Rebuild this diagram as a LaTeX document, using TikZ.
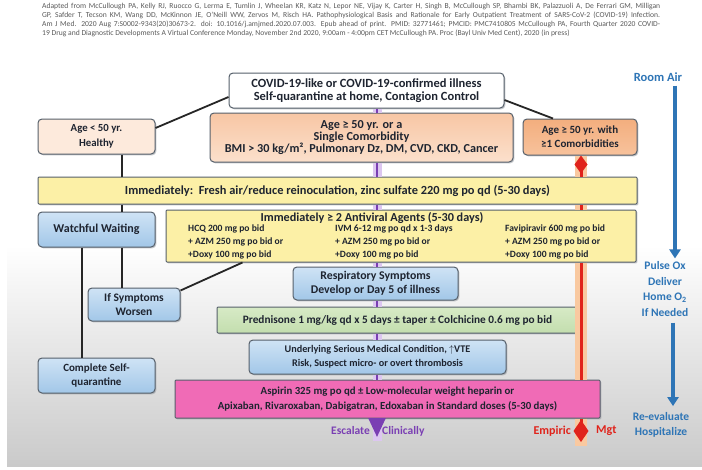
\documentclass[tikz,border=0pt]{standalone}
\usepackage{fontspec}
\setmainfont{Carlito}
\usetikzlibrary{shadows,arrows.meta,calc}
\definecolor{bordc}{HTML}{56606B}
\definecolor{txtc}{HTML}{1E2430}
\definecolor{hdrc}{HTML}{5A5A5A}
\definecolor{peachA}{HTML}{F8C6A4}
\definecolor{peachB}{HTML}{FBE0CC}
\definecolor{peachL}{HTML}{FDEADC}
\definecolor{orA}{HTML}{F3AE7E}
\definecolor{orB}{HTML}{F7C29C}
\definecolor{yelM}{HTML}{FCF0A6}
\definecolor{bluA}{HTML}{CFE3F5}
\definecolor{bluB}{HTML}{A2C7E8}
\definecolor{grnA}{HTML}{D7EAC6}
\definecolor{grnB}{HTML}{C3DEAE}
\definecolor{pnkM}{HTML}{F06BB6}
\definecolor{purp}{HTML}{7A3FB3}
\definecolor{purpglow}{HTML}{DCC6F0}
\definecolor{redl}{HTML}{E0231B}
\definecolor{redglow}{HTML}{F9C9A0}
\definecolor{bluel}{HTML}{2E75B6}
\definecolor{bgg}{HTML}{CACACA}
\definecolor{shadc}{HTML}{8A8F96}
\begin{document}
\begin{tikzpicture}[x=1pt,y=-1pt,
  box/.style={draw=bordc, line width=1pt, rounded corners=4pt, align=center,
    font=\fontsize{10}{12.5}\selectfont\bfseries, text=txtc, inner sep=1pt,
    drop shadow={shadow xshift=1.3pt,shadow yshift=-1.3pt,fill=shadc}},
  bluebox/.style={box, top color=bluA, bottom color=bluB},
  yelbox/.style={box, rounded corners=1pt, fill=yelM},
  smalltxt/.style={anchor=north west, align=left, inner sep=0pt, text=txtc,
    font=\fontsize{9.6}{13}\selectfont\bfseries},
  sidetxt/.style={inner sep=0pt, font=\fontsize{11.5}{15.5}\selectfont\bfseries, align=center},
  blk/.style={line width=1.8pt, black!85},
  pglow/.style={line width=9pt, purpglow},
  pline/.style={line width=2.6pt, purp},
  rglow/.style={line width=12pt, redglow},
  rline/.style={line width=3pt, redl},
  bluarrow/.style={line width=4pt, bluel, -{Triangle[width=11pt,length=9pt]}}
]
\useasboundingbox (0,0) rectangle (702,469);
\fill[white] (0,0) rectangle (702,469);
\shade[top color=white, bottom color=bgg] (7,245) rectangle (702,466);

% header
\node[anchor=north west, align=left, inner sep=0pt,
  font=\fontsize{7.6}{9}\selectfont, text=hdrc] (hdr) at (42,3.5)
{\makebox[618pt][s]{Adapted from McCullough PA, Kelly RJ, Ruocco G, Lerma E, Tumlin J, Wheelan KR, Katz N, Lepor NE, Vijay K, Carter H, Singh B, McCullough SP, Bhambi BK, Palazzuoli A, De Ferrari GM, Milligan}\\
\makebox[618pt][s]{GP, Safder T, Tecson KM, Wang DD, McKinnon JE, O'Neill WW, Zervos M, Risch HA. Pathophysiological Basis and Rationale for Early Outpatient Treatment of SARS-CoV-2 (COVID-19) Infection.}\\
\makebox[618pt][s]{Am J Med. 2020 Aug 7:S0002-9343(20)30673-2. doi: 10.1016/j.amjmed.2020.07.003. Epub ahead of print. PMID: 32771461; PMCID: PMC7410805 McCullough PA, Fourth Quarter 2020 COVID-}\\
19 Drug and Diagnostic Developments A Virtual Conference Monday, November 2nd 2020, 9:00am - 4:00pm CET McCullough PA. Proc (Bayl Univ Med Cent), 2020 (in press)};

% boxes
\node[box, fill=white, minimum width=275pt, minimum height=35pt, font=\fontsize{12.5}{13.5}\selectfont\bfseries] (top) at (366.5,90.5)
  {COVID-19-like or COVID-19-confirmed illness\\Self-quarantine at home, Contagion Control};
\node[box, fill=peachL, minimum width=117pt, minimum height=35pt, font=\fontsize{10.8}{15}\selectfont\bfseries] (young) at (96.5,136.5)
  {Age < 50 yr.\\Healthy};
\node[box, top color=peachA, bottom color=peachB, minimum width=303pt, minimum height=49pt,
  font=\fontsize{12.2}{12.2}\selectfont\bfseries] (single) at (361.5,137.5)
  {Age ≥ 50 yr. or a\\Single Comorbidity\\BMI > 30 kg/m², Pulmonary Dz, DM, CVD, CKD, Cancer};
\node[box, top color=orA, bottom color=orB, minimum width=114pt, minimum height=36pt, font=\fontsize{11}{14}\selectfont\bfseries] (comorb) at (580,137)
  {Age ≥ 50 yr. with\\≥1 Comorbidities};
\node[yelbox, minimum width=599pt, minimum height=27pt, font=\fontsize{12.4}{13}\selectfont\bfseries] (fresh) at (337.5,190.5)
  {Immediately:\ \ Fresh air/reduce reinoculation, zinc sulfate 220 mg po qd (5-30 days)};
\node[bluebox, minimum width=117pt, minimum height=35pt, font=\fontsize{12}{13}\selectfont\bfseries] (watch) at (96.5,229.5) {Watchful Waiting};
\node[yelbox, minimum width=470pt, minimum height=52pt] (antiv) at (401,236) {};
\node[inner sep=0pt, font=\fontsize{12.2}{13}\selectfont\bfseries, text=txtc] (antivt) at (372,218)
  {Immediately ≥ 2 Antiviral Agents (5-30 days)};
\node[smalltxt] (colA) at (188,225) {HCQ 200 mg po bid\\+ AZM 250 mg po bid or\\+Doxy 100 mg po bid};
\node[smalltxt] (colB) at (335,225) {IVM 6-12 mg po qd x 1-3 days\\+ AZM 250 mg po bid or\\+Doxy 100 mg po bid};
\node[smalltxt] (colC) at (505,225) {Favipiravir 600 mg po bid\\+ AZM 250 mg po bid or\\+Doxy 100 mg po bid};
\node[bluebox, minimum width=92pt, minimum height=33pt, font=\fontsize{11.5}{14}\selectfont\bfseries] (worsen) at (134,304.5) {If Symptoms\\Worsen};
\node[bluebox, minimum width=165pt, minimum height=33pt, font=\fontsize{11.8}{14}\selectfont\bfseries] (resp) at (375.5,283.5)
  {Respiratory Symptoms\\Develop or Day 5 of illness};
\node[box, rounded corners=1pt, top color=grnA, bottom color=grnB, minimum width=361pt, minimum height=26pt, font=\fontsize{11.3}{13}\selectfont\bfseries] (pred) at (397.5,320)
  {Prednisone 1 mg/kg qd x 5 days ± taper ± Colchicine 0.6 mg po bid};
\node[bluebox, minimum width=257pt, minimum height=34pt, font=\fontsize{10.2}{14}\selectfont\bfseries] (under) at (377.5,357)
  {Underlying Serious Medical Condition, \textcolor{txtc}{$\uparrow$}VTE\\Risk, Suspect micro- or overt thrombosis};
\node[bluebox, minimum width=117pt, minimum height=35pt, font=\fontsize{11}{14}\selectfont\bfseries] (selfq) at (96.5,375.5) {Complete Self-\\quarantine};
\node[box, rounded corners=1pt, fill=pnkM, minimum width=425pt, minimum height=38pt,
  font=\fontsize{10.8}{15}\selectfont\bfseries] (asp) at (387.5,399)
  {Aspirin 325 mg po qd ± Low-molecular weight heparin or\\Apixaban, Rivaroxaban, Dabigatran, Edoxaban in Standard doses (5-30 days)};

% bottom labels
\coordinate (esc) at (377,437);
\node[sidetxt, text=purp, anchor=east] (escl) at (370,431) {Escalate};
\node[sidetxt, text=purp, anchor=west] (clin) at (382,431) {Clinically};
\coordinate (emp) at (581,442);
\node[sidetxt, text=redl, anchor=east, font=\fontsize{12}{14}\selectfont\bfseries] (empl) at (571,431) {Empiric};
\node[sidetxt, text=redl, anchor=west, font=\fontsize{12}{14}\selectfont\bfseries] (mgt) at (596,431) {Mgt};

% right column
\node[sidetxt, text=bluel, font=\fontsize{12.5}{14}\selectfont\bfseries] (room) at (658,77) {Room Air};
\node[sidetxt, text=bluel] (pulse) at (665,289) {Pulse Ox\\Deliver\\Home O\textsubscript{2}\\If Needed};
\node[sidetxt, text=bluel] (reev) at (661,425) {Re-evaluate\\Hospitalize};

% purple path, drawn between boxes
\foreach \a/\b in {top/single, single/fresh, fresh/antiv, antiv/resp, resp/pred, pred/under, under/asp} {
  \draw[pglow] (\a.south -| esc) -- (\b.north -| esc);
  \draw[pline] (\a.south -| esc) -- (\b.north -| esc);
}
\draw[pglow] (asp.south -| esc) -- ([yshift=-4pt]esc);
\draw[pline, -{Triangle[width=17pt,length=19pt]}] (asp.south -| esc) -- (esc);

% red path, drawn between boxes
\draw[rglow] (comorb.south -| emp) -- (fresh.north -| emp);
\draw[rline, {Diamond[width=13pt,length=18pt]}-] (comorb.south -| emp) -- (fresh.north -| emp);
\draw[rglow] (fresh.south -| emp) -- (antiv.north -| emp);
\draw[rline] (fresh.south -| emp) -- (antiv.north -| emp);
\draw[rglow] (antiv.south -| emp) -- (asp.north -| emp);
\draw[rline] (antiv.south -| emp) -- (asp.north -| emp);
\draw[rglow] (asp.south -| emp) -- ([yshift=-4pt]emp);
\draw[rline, -{Diamond[width=15pt,length=22pt]}] (asp.south -| emp) -- (emp);

% black connectors
\coordinate (yl) at ([xshift=25.5pt]young.south);
\coordinate (wl) at ([xshift=25.5pt]watch.north);
\draw[blk] ([yshift=-6.5pt]top.west) -- ([yshift=8.5pt]young.east);
\draw[blk] ([yshift=-9.5pt]top.east) -- ([xshift=-27pt]comorb.north);
\draw[blk] (yl) -- (yl |- fresh.north);
\draw[blk] (wl |- fresh.south) -- (wl);
\draw[blk] ([xshift=-14.5pt]watch.south) -- ([xshift=-14.5pt]selfq.north);
\draw[blk] ([xshift=25.5pt]watch.south) -- ([xshift=-12pt]worsen.north);
\draw[blk] ([yshift=14pt]worsen.east) -- ([xshift=77pt]antiv.south west);

% blue arrows
\draw[bluarrow] ([xshift=17pt,yshift=-4pt]room.south) -- ([xshift=10pt,yshift=3pt]pulse.north);
\draw[bluarrow] ([xshift=8pt,yshift=-6pt]pulse.south) -- ([xshift=12pt,yshift=6pt]reev.north);
\end{tikzpicture}
\end{document}
